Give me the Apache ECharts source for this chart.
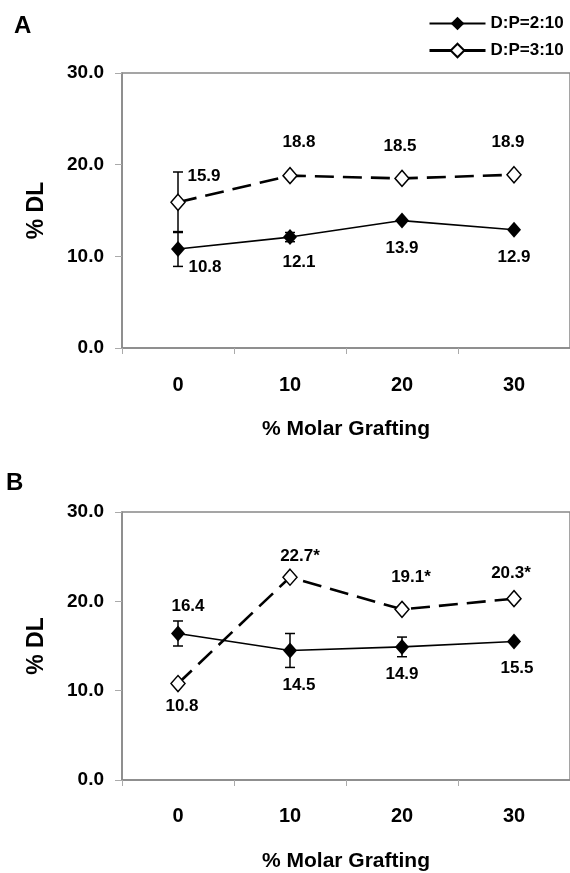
<!DOCTYPE html>
<html><head><meta charset="utf-8">
<script src="https://cdn.jsdelivr.net/npm/echarts@6/dist/echarts.min.js"></script>
<style>html,body{margin:0;padding:0;background:#fff}#c{width:570px;height:873px}</style>
</head><body><div id="c"></div>
<script>
// ---- data ----
const categories = ['0', '10', '20', '30'];
const yTickValues = [0, 10, 20, 30];
const yTickLabels = ['0.0', '10.0', '20.0', '30.0'];
const seriesNames = ['D:P=2:10', 'D:P=3:10'];
const xAxisTitle = '% Molar Grafting';
const yAxisTitle = '% DL';
const panelTitles = ['A', 'B'];

const panelA_DP210 = [10.8, 12.1, 13.9, 12.9];
const panelA_DP310 = [15.9, 18.8, 18.5, 18.9];
const panelA_DP210_err = [1.9, 0.5, 0, 0];
const panelA_DP310_err = [3.3, 0, 0, 0];
const panelA_DP210_labels = ['10.8', '12.1', '13.9', '12.9'];
const panelA_DP310_labels = ['15.9', '18.8', '18.5', '18.9'];

const panelB_DP210 = [16.4, 14.5, 14.9, 15.5];
const panelB_DP310 = [10.8, 22.7, 19.1, 20.3];
const panelB_DP210_err = [1.4, 1.9, 1.1, 0];
const panelB_DP310_err = [0, 0, 0, 0];
const panelB_DP210_labels = ['16.4', '14.5', '14.9', '15.5'];
const panelB_DP310_labels = ['10.8', '22.7*', '19.1*', '20.3*'];

// ---- styles (label offsets in px relative to marker) ----
const offA210 = [[27, 18], [9, 25], [0, 28], [0, 28]];
const offA310 = [[26, -26], [9, -33], [-2, -32], [-6, -32]];
const offB210 = [[10, -27], [9, 35], [0, 27], [3, 27]];
const offB310 = [[4, 23], [10, -21], [9, -32], [-3, -25]];

const FF = "'Liberation Sans', Arial, sans-serif";
const chart = echarts.init(document.getElementById('c'), null, {renderer: 'canvas'});

function mkData(vals, labels, offs) {
  return vals.map((v, i) => ({value: v, label: {formatter: labels[i], offset: offs[i]}}));
}
function mkErr(vals, errs) {
  return vals.map((v, i) => [i, v - errs[i], v + errs[i]]);
}
function errRender(params, api) {
  const x = api.value(0), lo = api.value(1), hi = api.value(2);
  if (!(hi - lo > 0)) return;
  const p1 = api.coord([x, hi]), p2 = api.coord([x, lo]);
  const w = 5;
  const style = {stroke: '#000', lineWidth: 1.5, fill: null};
  return {type: 'group', children: [
    {type: 'line', shape: {x1: p1[0], y1: p1[1], x2: p2[0], y2: p2[1]}, style: style},
    {type: 'line', shape: {x1: p1[0] - w, y1: p1[1], x2: p1[0] + w, y2: p1[1]}, style: style},
    {type: 'line', shape: {x1: p2[0] - w, y1: p2[1], x2: p2[0] + w, y2: p2[1]}, style: style}
  ]};
}
const labelStyle = {show: true, position: 'inside', color: '#000', fontSize: 17, fontWeight: 'bold', fontFamily: FF};

function lineSeries(k, gi, vals, labels, offs) {
  const solid = k === 0;
  return {
    type: 'line', name: seriesNames[k], xAxisIndex: gi, yAxisIndex: gi, z: 5,
    data: mkData(vals, labels, offs),
    symbol: 'diamond', symbolSize: [14, 16],
    lineStyle: {color: '#000', width: solid ? 1.6 : 2.6, type: solid ? 'solid' : [19, 9]},
    itemStyle: solid ? {color: '#000'} : {color: '#fff', borderColor: '#000', borderWidth: 1.5},
    label: labelStyle, emphasis: {disabled: true}
  };
}
function errSeries(gi, vals, errs) {
  return {type: 'custom', xAxisIndex: gi, yAxisIndex: gi, z: 2, renderItem: errRender,
    encode: {x: 0, y: [1, 2]}, data: mkErr(vals, errs), silent: true};
}
function xAxis(gi, margin) {
  return {gridIndex: gi, type: 'category', data: categories, boundaryGap: true,
    axisLine: {show: true, lineStyle: {color: '#888', width: 1.5}},
    axisTick: {show: true, length: 6, lineStyle: {color: '#aaa'}},
    axisLabel: {color: '#000', fontSize: 20, fontWeight: 'bold', fontFamily: FF, margin: margin},
    name: xAxisTitle, nameLocation: 'middle', nameGap: 71,
    nameTextStyle: {color: '#000', fontSize: 21, fontWeight: 'bold', fontFamily: FF}};
}
function yAxis(gi) {
  return {gridIndex: gi, type: 'value', min: yTickValues[0], max: yTickValues[yTickValues.length - 1], interval: 10,
    axisLine: {show: true, lineStyle: {color: '#888', width: 1.5}},
    axisTick: {show: true, length: 7, lineStyle: {color: '#aaa'}},
    splitLine: {show: false},
    axisLabel: {color: '#000', fontSize: 19, fontWeight: 'bold', fontFamily: FF, margin: 18,
      formatter: v => yTickLabels[yTickValues.indexOf(v)]},
    name: yAxisTitle, nameLocation: 'middle', nameGap: 74,
    nameTextStyle: {color: '#000', fontSize: 23, fontWeight: 'bold', fontFamily: FF}};
}

chart.setOption({
  animation: false,
  backgroundColor: '#fff',
  grid: [
    {left: 122, top: 73, width: 455, height: 275, show: true, borderColor: '#888', borderWidth: 1.5},
    {left: 122, top: 512, width: 455, height: 270, show: true, borderColor: '#888', borderWidth: 1.5}
  ],
  xAxis: [xAxis(0, 27), xAxis(1, 26)],
  yAxis: [yAxis(0), yAxis(1)],
  legend: {
    left: 423, top: 10, orient: 'vertical', itemWidth: 56, itemHeight: 17, itemGap: 10,
    data: [
      {name: seriesNames[0], lineStyle: {width: 2, type: 'solid', color: '#000'}},
      {name: seriesNames[1], lineStyle: {width: 3, type: 'solid', color: '#000'}}
    ],
    textStyle: {color: '#000', fontSize: 17, fontWeight: 'bold', fontFamily: FF}
  },
  graphic: [
    {type: 'text', left: 14, top: 14, style: {text: panelTitles[0], fill: '#000', font: 'bold 24px ' + FF}},
    {type: 'text', left: 6, top: 471, style: {text: panelTitles[1], fill: '#000', font: 'bold 24px ' + FF}}
  ],
  series: [
    errSeries(0, panelA_DP210, panelA_DP210_err),
    errSeries(0, panelA_DP310, panelA_DP310_err),
    lineSeries(0, 0, panelA_DP210, panelA_DP210_labels, offA210),
    lineSeries(1, 0, panelA_DP310, panelA_DP310_labels, offA310),
    errSeries(1, panelB_DP210, panelB_DP210_err),
    errSeries(1, panelB_DP310, panelB_DP310_err),
    lineSeries(0, 1, panelB_DP210, panelB_DP210_labels, offB210),
    lineSeries(1, 1, panelB_DP310, panelB_DP310_labels, offB310)
  ]
});
</script>
</body></html>
